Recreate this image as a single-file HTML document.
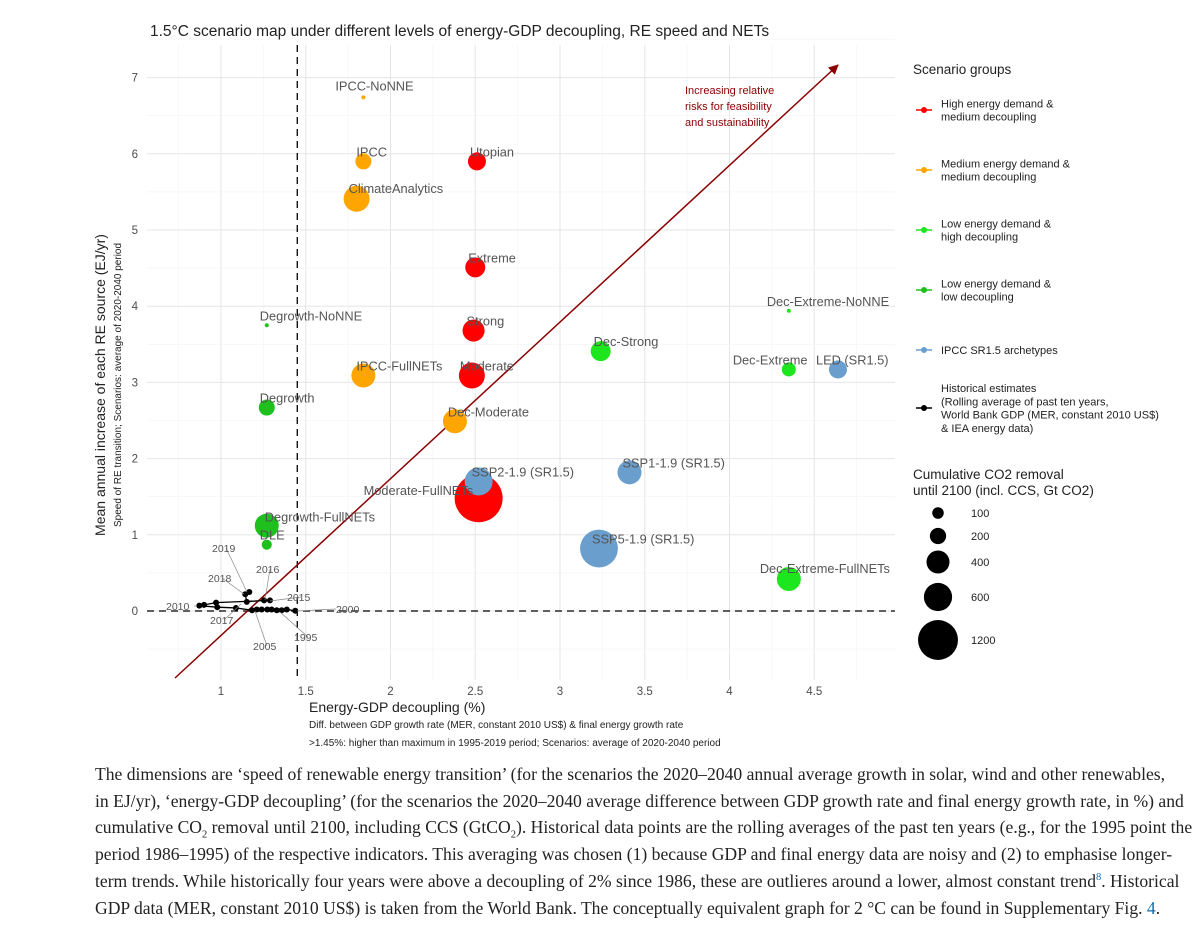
<!DOCTYPE html>
<html><head><meta charset="utf-8"><style>
body{margin:0;background:#fff;width:1200px;height:931px;overflow:hidden;font-family:"Liberation Sans",sans-serif}
#cap{position:absolute;left:95px;top:761px;width:1105px;white-space:nowrap;font-family:"Liberation Serif",serif;font-size:17.6px;line-height:26.7px;color:#222}
#cap a{color:#0a6db0;text-decoration:none}
#cap sub,#cap sup{font-size:10.5px;line-height:0}
</style></head><body>
<svg id="chart" width="1200" height="760" style="position:absolute;left:0;top:0" font-family="Liberation Sans, sans-serif"></svg>
<div id="cap">The dimensions are ‘speed of renewable energy transition’ (for the scenarios the 2020–2040 annual average growth in solar, wind and other renewables,<br>in EJ/yr), ‘energy-GDP decoupling’ (for the scenarios the 2020–2040 average difference between GDP growth rate and final energy growth rate, in %) and<br>cumulative CO<sub>2</sub> removal until 2100, including CCS (GtCO<sub>2</sub>). Historical data points are the rolling averages of the past ten years (e.g., for the 1995 point the<br>period 1986–1995) of the respective indicators. This averaging was chosen (1) because GDP and final energy data are noisy and (2) to emphasise longer-<br>term trends. While historically four years were above a decoupling of 2% since 1986, these are outlieres around a lower, almost constant trend<sup><a href="#">8</a></sup>. Historical<br>GDP data (MER, constant 2010 US$) is taken from the World Bank. The conceptually equivalent graph for 2 °C can be found in Supplementary Fig. <a href="#">4</a>.</div>
<script>
const names=["IPCC-NoNNE","IPCC","ClimateAnalytics","IPCC-FullNETs","Dec-Moderate","Utopian","Extreme","Strong","Moderate","Moderate-FullNETs","Degrowth-NoNNE","Degrowth","Degrowth-FullNETs","DLE","Dec-Strong","Dec-Extreme-NoNNE","Dec-Extreme","Dec-Extreme-FullNETs","LED (SR1.5)","SSP2-1.9 (SR1.5)","SSP1-1.9 (SR1.5)","SSP5-1.9 (SR1.5)"];
const groups=["med","med","med","med","med","high","high","high","high","high","low","low","low","low","lowhigh","lowhigh","lowhigh","lowhigh","ipcc","ipcc","ipcc","ipcc"];
const decoupling=[1.84,1.84,1.80,1.84,2.38,2.51,2.50,2.49,2.48,2.52,1.27,1.27,1.27,1.27,3.24,4.35,4.35,4.35,4.64,2.52,3.41,3.23];
const reSpeed=[6.74,5.90,5.41,3.09,2.49,5.90,4.51,3.68,3.09,1.48,3.75,2.67,1.12,0.87,3.41,3.94,3.17,0.42,3.17,1.70,1.82,0.82];
const co2Removal=[6,100,264,225,225,127,156,190,264,900,6,100,225,40,156,3,77,225,127,306,225,560];
const histX=[1.438,1.388,1.358,1.329,1.299,1.273,1.240,1.211,1.183,1.088,0.978,0.872,0.900,0.971,1.289,1.254,1.152,1.143,1.167];
const histY=[0.004,0.02,0.01,0.01,0.02,0.02,0.02,0.02,0.01,0.04,0.05,0.07,0.08,0.11,0.14,0.14,0.12,0.22,0.25];
const xTicks=[1,1.5,2,2.5,3,3.5,4,4.5];
const yTicks=[0,1,2,3,4,5,6,7];
const legendSizes=[100,200,400,600,1200];
const colors={high:"#ff0000",med:"#ffa500",lowhigh:"#1ee61e",low:"#1ec01e",ipcc:"#6a9fcd"};
const X=v=>221+(v-1)*169.5, Y=v=>611-v*76.2;
const R=s=>Math.max(2,Math.sqrt(s)*0.8);
const svg=document.getElementById('chart');const NS="http://www.w3.org/2000/svg";
function mk(t,a,p){const e=document.createElementNS(NS,t);for(const k in a)e.setAttribute(k,a[k]);(p||svg).appendChild(e);return e;}
function tx(x,y,s,a){const e=mk('text',Object.assign({x:x,y:y},a));e.textContent=s;return e;}
const L=147,Rr=895,T=45,B=680;
for(let v=0.75;v<=4.85;v+=0.25){const isMaj=Math.abs(v*2-Math.round(v*2))<1e-6;const g=mk('line',{x1:X(v),x2:X(v),y1:T,y2:B,stroke:isMaj?"#e6e6e6":"#f3f3f3","stroke-width":isMaj?1:0.6});}
for(let v=-0.5;v<=7.5;v+=0.5){const isMaj=Number.isInteger(v);const g=mk('line',{x1:L,x2:Rr,y1:Y(v),y2:Y(v),stroke:isMaj?"#e6e6e6":"#f3f3f3","stroke-width":isMaj?1:0.6});}
xTicks.forEach(v=>{const t=tx(X(v),695,String(v),{"font-size":11.5,fill:"#4d4d4d","text-anchor":"middle"});});
yTicks.forEach(v=>{const t=tx(138,Y(v)+4,String(v),{"font-size":11.5,fill:"#4d4d4d","text-anchor":"end"});});
let d=mk('line',{x1:X(1.45),x2:X(1.45),y1:T,y2:B,stroke:"#000","stroke-dasharray":"7,5","stroke-width":1.3});
d=mk('line',{x1:L,x2:Rr,y1:Y(0),y2:Y(0),stroke:"#000","stroke-dasharray":"7,5","stroke-width":1.3});
const defs=mk('defs',{});const m=mk('marker',{id:'ah',markerWidth:10,markerHeight:10,refX:9,refY:5,orient:'auto',markerUnits:'userSpaceOnUse'},defs);mk('path',{d:'M0,0 L10,5 L0,10 z',fill:'#8b0000'},m);
d=mk('line',{x1:175,y1:678,x2:838,y2:65,stroke:"#8b0000","stroke-width":1.5,"marker-end":"url(#ah)"});
[["Increasing relative",94],["risks for feasibility",110],["and sustainability",126]].forEach(a=>{const t=tx(685,a[1],a[0],{"font-size":11,fill:"#8b0000"});});
let pts=histX.map((v,i)=>X(v)+","+Y(histY[i])).join(" ");
d=mk('polyline',{points:pts,fill:"none",stroke:"#000","stroke-width":1.3});
histX.forEach((v,i)=>{const c=mk('circle',{cx:X(v),cy:Y(histY[i]),r:3,fill:"#000"});});
const yl=[["2019",212,552,247,592],["2018",208,582,244,594],["2016",256,573,265,600],["2015",287,601,270,601],["2010",166,610,197,606],["2017",210,624,241,604],["2005",253,650,255,611],["1995",294,641,280,612],["2000",336,613,297,611]];
yl.forEach(a=>{const l=mk('line',{x1:a[1]+(a[0]=="2010"?28:a[0]=="2000"?0:14),y1:a[2]-4,x2:a[3],y2:a[4],stroke:"#888","stroke-width":0.7});const t=tx(a[1],a[2],a[0],{"font-size":10.5,fill:"#555"});});
const order=names.map((n,i)=>i).sort((a,b)=>co2Removal[b]-co2Removal[a]);
order.forEach(i=>{const c=mk('circle',{cx:X(decoupling[i]),cy:Y(reSpeed[i]),r:R(co2Removal[i]),fill:colors[groups[i]]});});
const offX={"Dec-Extreme-NoNNE":-22,"Dec-Extreme":-56,"LED (SR1.5)":-22,"Moderate":-12,"Degrowth-FullNETs":-2,"Moderate-FullNETs":-115,"Dec-Extreme-FullNETs":-29,"IPCC-NoNNE":-28,"ClimateAnalytics":-8};
const offY={"IPCC-NoNNE":-7,"ClimateAnalytics":-6,"Moderate-FullNETs":-3,"Degrowth-FullNETs":-4,"Dec-Extreme-FullNETs":-6};
names.forEach((n,i)=>{const x=X(decoupling[i]),y=Y(reSpeed[i]);const t=tx(x+(offX[n]!==undefined?offX[n]:-7),y+(offY[n]!==undefined?offY[n]:-5),n,{"font-size":12.8,fill:"#555"});});
let t=tx(150,36,"1.5°C scenario map under different levels of energy-GDP decoupling, RE speed and NETs",{"font-size":15.5,fill:"#222"});
t=tx(309,712,"Energy-GDP decoupling (%)",{"font-size":14,fill:"#222"});
t=tx(309,728,"Diff. between GDP growth rate (MER, constant 2010 US$) & final energy growth rate",{"font-size":10,fill:"#222"});
t=tx(309,746,">1.45%: higher than maximum in 1995-2019 period; Scenarios: average of 2020-2040 period",{"font-size":10,fill:"#222"});
t=tx(0,0,"Mean annual increase of each RE source (EJ/yr)",{"font-size":14,fill:"#222","text-anchor":"middle",transform:"translate(105,385) rotate(-90)"});
t=tx(0,0,"Speed of RE transition; Scenarios: average of 2020-2040 period",{"font-size":10,fill:"#222","text-anchor":"middle",transform:"translate(121,385) rotate(-90)"});
t=tx(913,74,"Scenario groups",{"font-size":13.5,fill:"#222"});
const leg=[["high",110,["High energy demand &","medium decoupling"]],["med",170,["Medium energy demand &","medium decoupling"]],["lowhigh",230,["Low energy demand &","high decoupling"]],["low",290,["Low energy demand &","low decoupling"]],["ipcc",350,["IPCC SR1.5 archetypes"]],["hist",408,["Historical estimates","(Rolling average of past ten years,","World Bank GDP (MER, constant 2010 US$)","& IEA energy data)"]]];
leg.forEach(a=>{const c=a[0]=="hist"?"#000":colors[a[0]];const g=mk('g',{});mk('line',{x1:916,x2:932,y1:a[1],y2:a[1],stroke:c,"stroke-width":1.5},g);mk('circle',{cx:924,cy:a[1],r:3,fill:c},g);const n=a[2].length;a[2].forEach((s,k)=>{const e=mk('text',{x:941,y:a[1]+4-(n-1)*6.7+k*13.4,"font-size":11,fill:"#222"},g);e.textContent=s;});});
t=tx(913,479,"Cumulative CO2 removal",{"font-size":13.5,fill:"#222"});
t=tx(913,495,"until 2100 (incl. CCS, Gt CO2)",{"font-size":13.5,fill:"#222"});
const ly=[513,536,562,597,640];
legendSizes.forEach((s,k)=>{const c=mk('circle',{cx:938,cy:ly[k],r:R(s)*0.72,fill:"#000"});const e=tx(971,ly[k]+4,String(s),{"font-size":11,fill:"#222"});});
</script>
</body></html>
